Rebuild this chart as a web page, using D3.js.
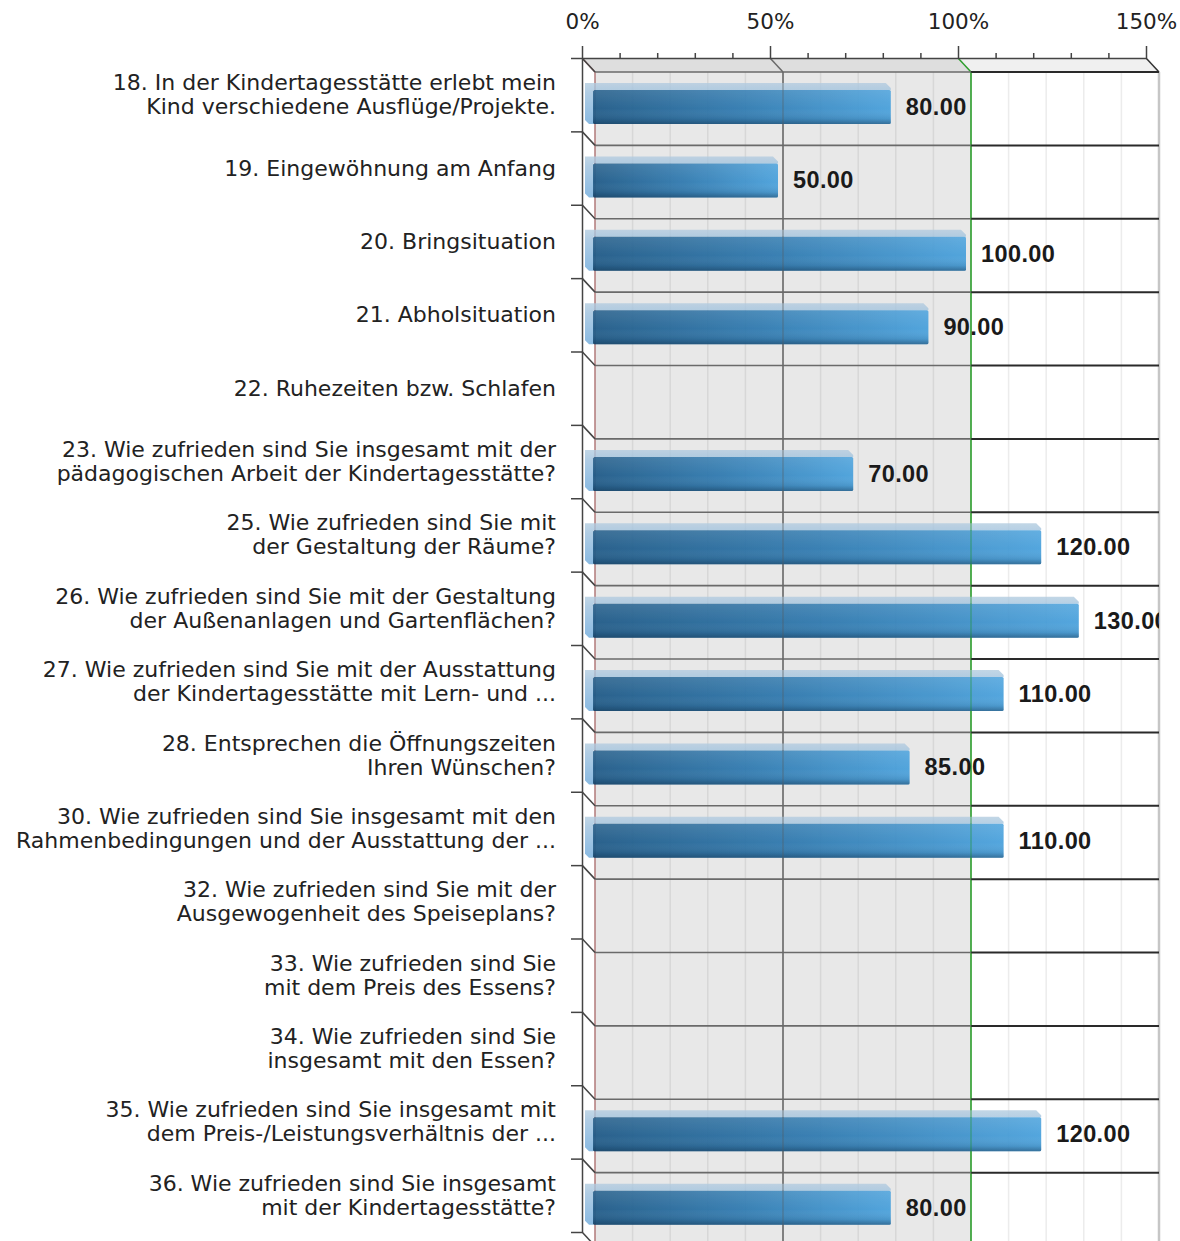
<!DOCTYPE html>
<html><head><meta charset="utf-8">
<script src="https://cdn.jsdelivr.net/npm/d3@7"></script>
<style>html,body{margin:0;padding:0;background:#fff;} svg{display:block}</style>
</head><body>
<svg id="chart" width="1180" height="1241"></svg>
<script>
// ---- data ----
const categories = [
  ["18. In der Kindertagesstätte erlebt mein", "Kind verschiedene Ausflüge/Projekte."],
  ["19. Eingewöhnung am Anfang"],
  ["20. Bringsituation"],
  ["21. Abholsituation"],
  ["22. Ruhezeiten bzw. Schlafen"],
  ["23. Wie zufrieden sind Sie insgesamt mit der", "pädagogischen Arbeit der Kindertagesstätte?"],
  ["25. Wie zufrieden sind Sie mit", "der Gestaltung der Räume?"],
  ["26. Wie zufrieden sind Sie mit der Gestaltung", "der Außenanlagen und Gartenflächen?"],
  ["27. Wie zufrieden sind Sie mit der Ausstattung", "der Kindertagesstätte mit Lern- und ..."],
  ["28. Entsprechen die Öffnungszeiten", "Ihren Wünschen?"],
  ["30. Wie zufrieden sind Sie insgesamt mit den", "Rahmenbedingungen und der Ausstattung der ..."],
  ["32. Wie zufrieden sind Sie mit der", "Ausgewogenheit des Speiseplans?"],
  ["33. Wie zufrieden sind Sie", "mit dem Preis des Essens?"],
  ["34. Wie zufrieden sind Sie", "insgesamt mit den Essen?"],
  ["35. Wie zufrieden sind Sie insgesamt mit", "dem Preis-/Leistungsverhältnis der ..."],
  ["36. Wie zufrieden sind Sie insgesamt", "mit der Kindertagesstätte?"]
];
const values = [80, 50, 100, 90, null, 70, 120, 130, 110, 85, 110, null, null, null, 120, 80];
const majorTicks = [0, 50, 100, 150];
const minorTicks = [10, 20, 30, 40, 60, 70, 80, 90, 110, 120, 130, 140];
const referenceValue = 100;

// ---- layout ----
const W = 1180, H = 1241;
const x0 = 582, x1 = 1146, yTop = 58, yBot = 1232, dx = 13, dy = 14;
const svg = d3.select("#chart");
const x = d3.scaleLinear().domain([0, 150]).range([x0, x1]);
const n = categories.length;
const y = d3.scaleBand().domain(d3.range(n)).range([yTop, yBot]);
const yb = d3.scaleLinear().domain([0, n]).range([yTop, yBot]);

const defs = svg.append("defs");
const fg = defs.append("linearGradient").attr("id", "frontGrad").attr("x1", 0).attr("x2", 1).attr("y1", 0).attr("y2", 0);
fg.append("stop").attr("offset", "0%").attr("stop-color", "#1c5886");
fg.append("stop").attr("offset", "50%").attr("stop-color", "#2d79b0");
fg.append("stop").attr("offset", "100%").attr("stop-color", "#47a0dc");
const vg = defs.append("linearGradient").attr("id", "shadeGrad").attr("x1", 0).attr("x2", 0).attr("y1", 0).attr("y2", 1);
vg.append("stop").attr("offset", "0%").attr("stop-color", "#ffffff").attr("stop-opacity", 0.10);
vg.append("stop").attr("offset", "55%").attr("stop-color", "#ffffff").attr("stop-opacity", 0);
vg.append("stop").attr("offset", "85%").attr("stop-color", "#00223f").attr("stop-opacity", 0.12);
vg.append("stop").attr("offset", "100%").attr("stop-color", "#00223f").attr("stop-opacity", 0.45);
const tg = defs.append("linearGradient").attr("id", "topGrad").attr("x1", 0).attr("x2", 0).attr("y1", 0).attr("y2", 1);
tg.append("stop").attr("offset", "0%").attr("stop-color", "#b3cce0");
tg.append("stop").attr("offset", "25%").attr("stop-color", "#9cc0de");
tg.append("stop").attr("offset", "100%").attr("stop-color", "#6aa8da");
defs.append("clipPath").attr("id", "plotClip").append("rect")
  .attr("x", 0).attr("y", 0).attr("width", x(150) + dx).attr("height", H);

// top strip
const strip = svg.append("g");
strip.append("polygon")
  .attr("points", [[x(0), yTop], [x(referenceValue), yTop], [x(referenceValue) + dx, yTop + dy], [x(0) + dx, yTop + dy]].join(" "))
  .attr("fill", "#dedede");
strip.append("polygon")
  .attr("points", [[x(referenceValue), yTop], [x(150), yTop], [x(150) + dx, yTop + dy], [x(referenceValue) + dx, yTop + dy]].join(" "))
  .attr("fill", "#f0f0f0");

// back wall
svg.append("rect").attr("x", x(0) + dx).attr("y", yTop + dy)
  .attr("width", x(referenceValue) - x(0)).attr("height", H - yTop - dy).attr("fill", "#e8e8e8");

// minor grid
svg.append("g").selectAll("line").data(minorTicks).join("line")
  .attr("x1", d => x(d) + dx).attr("x2", d => x(d) + dx)
  .attr("y1", yTop + dy).attr("y2", H)
  .attr("stroke", d => d < referenceValue ? "#d7d7d7" : "#ececec").attr("stroke-width", 1.5);

// major grid + diagonals
const majorColor = d => d === 0 ? "#b27a7a" : d === 50 ? "#6a6a6a" : d === 100 ? "#2e9e2e" : "#c6c6c6";
svg.append("g").selectAll("line").data(majorTicks).join("line")
  .attr("x1", d => x(d) + dx).attr("x2", d => x(d) + dx)
  .attr("y1", yTop + dy).attr("y2", H)
  .attr("stroke", majorColor).attr("stroke-width", d => d === 150 ? 2.5 : 1.5);
svg.append("g").selectAll("line").data(majorTicks).join("line")
  .attr("x1", d => x(d)).attr("x2", d => x(d) + dx)
  .attr("y1", yTop).attr("y2", yTop + dy)
  .attr("stroke", d => d === 150 ? "#333" : majorColor(d)).attr("stroke-width", 1.5);

// category boundary lines
const bounds = d3.range(n + 1);
const bl = svg.append("g");
bl.selectAll(".bl").data(bounds).join("line").attr("class", "bl")
  .attr("x1", x(0) + dx).attr("x2", x(referenceValue) + dx)
  .attr("y1", d => yb(d) + dy).attr("y2", d => yb(d) + dy)
  .attr("stroke", "#6a6a6a").attr("stroke-width", 1.6);
bl.selectAll(".br").data(bounds).join("line").attr("class", "br")
  .attr("x1", x(referenceValue) + dx).attr("x2", x(150) + dx)
  .attr("y1", d => yb(d) + dy).attr("y2", d => yb(d) + dy)
  .attr("stroke", "#2a2a2a").attr("stroke-width", 2);
bl.selectAll(".bd").data(bounds).join("line").attr("class", "bd")
  .attr("x1", x0).attr("x2", x0 + dx)
  .attr("y1", d => yb(d)).attr("y2", d => yb(d) + dy)
  .attr("stroke", "#444").attr("stroke-width", 1.5);

// bars
const bars = svg.append("g").attr("clip-path", "url(#plotClip)");
values.forEach((v, i) => {
  if (v == null) return;
  const xl = x0 + 3, xs = x0 + 11, xe = x(v) + 8;
  const t = y(i) + 25, f = t + 7, b = t + 41;
  const g = bars.append("g").attr("opacity", 0.93);
  g.append("path")
    .attr("d", `M${xl},${t} L${xe - 5},${t} L${xe},${t + 5} L${xe},${f} L${xs},${f} L${xs},${b} L${xl + 4},${b} L${xl},${b - 4} Z`)
    .attr("fill", "url(#topGrad)").attr("opacity", 0.85);
  g.append("rect").attr("x", xs).attr("y", f).attr("width", xe - xs).attr("height", b - f)
    .attr("rx", 1.5).attr("fill", "url(#frontGrad)");
  g.append("rect").attr("x", xs).attr("y", f).attr("width", xe - xs).attr("height", b - f)
    .attr("rx", 1.5).attr("fill", "url(#shadeGrad)");
});
svg.append("g").selectAll("line").data([50, 100]).join("line")
  .attr("x1", d => x(d) + dx).attr("x2", d => x(d) + dx)
  .attr("y1", yTop + dy).attr("y2", H)
  .attr("stroke", majorColor).attr("stroke-width", 1.5).attr("opacity", 0.35);

// value labels
svg.append("g").attr("clip-path", "url(#plotClip)")
  .selectAll("text").data(values.map((v, i) => ({ v, i })).filter(d => d.v != null)).join("text")
  .attr("x", d => x(d.v) + 8 + 15)
  .attr("y", d => y(d.i) + 25 + 24)
  .attr("dominant-baseline", "central")
  .attr("font-family", "'Liberation Sans', Arial, sans-serif")
  .attr("font-weight", "bold").attr("font-size", 23.5).attr("letter-spacing", 0.4)
  .attr("fill", "#1a1a1a")
  .text(d => d3.format(".2f")(d.v));

// top axis
const axTop = svg.append("g").attr("transform", `translate(0,${yTop})`)
  .call(d3.axisTop(x).tickValues(majorTicks).tickSize(12).tickSizeOuter(0).tickPadding(17).tickFormat(d => d + "%"));
axTop.select(".domain").attr("stroke", "#444").attr("stroke-width", 1.5);
axTop.selectAll(".tick line").attr("stroke", "#444").attr("stroke-width", 1.5);
axTop.selectAll(".tick text").attr("font-family", "'DejaVu Sans', Tahoma, sans-serif")
  .attr("font-size", 21.5).attr("fill", "#222");
const axMinor = svg.append("g").attr("transform", `translate(0,${yTop})`)
  .call(d3.axisTop(x).tickValues(minorTicks).tickSize(5).tickSizeOuter(0).tickFormat(""));
axMinor.select(".domain").remove();
axMinor.selectAll(".tick line").attr("stroke", "#444").attr("stroke-width", 1.5);

// left axis
const axLeft = svg.append("g").attr("transform", `translate(${x0},0)`)
  .call(d3.axisLeft(yb).tickValues(bounds).tickSize(11).tickSizeOuter(0).tickFormat(""));
axLeft.select(".domain").attr("stroke", "#444").attr("stroke-width", 1.5);
axLeft.selectAll(".tick line").attr("stroke", "#444").attr("stroke-width", 1.5);

// category labels
const lab = svg.append("g");
categories.forEach((lines, i) => {
  const cy = y(i) + y.bandwidth() / 2;
  const lh = 24;
  const t = lab.append("text")
    .attr("text-anchor", "end")
    .attr("font-family", "'DejaVu Sans', Tahoma, sans-serif")
    .attr("font-size", 22).attr("fill", "#222");
  lines.forEach((ln, k) => {
    t.append("tspan").attr("x", 556)
      .attr("y", cy + (k - (lines.length - 1) / 2) * lh)
      .attr("dominant-baseline", "central")
      .text(ln);
  });
});
</script>
</body></html>
